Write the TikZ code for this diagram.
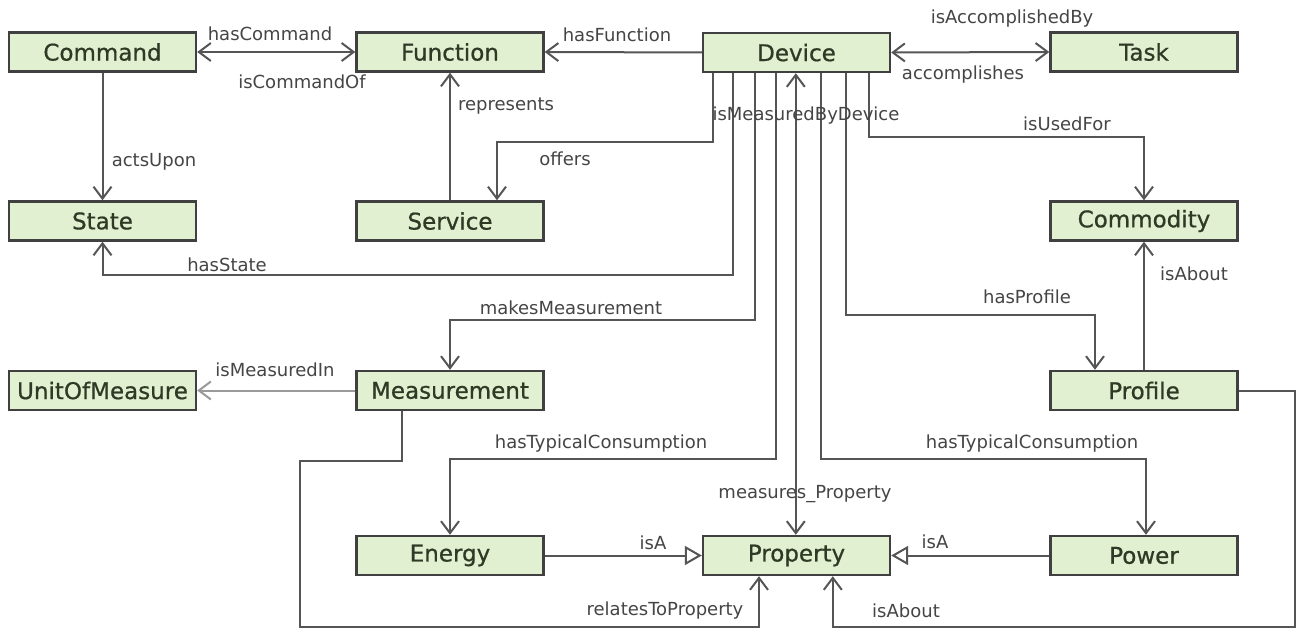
\documentclass[tikz,border=0pt]{standalone}
\usepackage{fontspec}
\setmainfont{DejaVu Sans}
\newfontfamily\clsfont[BoldFont=DejaVu Sans, BoldFeatures={FakeBold=0.7}]{DejaVu Sans}
\usetikzlibrary{arrows.meta,calc}

\definecolor{boxfill}{HTML}{E1F0D0}
\definecolor{boxline}{HTML}{404040}
\definecolor{boxtext}{HTML}{2E3A25}
\definecolor{relline}{HTML}{555555}
\definecolor{reltext}{HTML}{454545}
\definecolor{lightrel}{HTML}{9A9A9A}

\tikzset{
  cls/.style={draw=boxline, line width=2.4pt, fill=boxfill, minimum width=187pt,
    minimum height=39pt, inner sep=0pt, text=boxtext,
    font=\clsfont\bfseries\fontsize{23}{23}\selectfont},
  rel/.style={draw=relline, line width=2pt, -{Straight Barb[length=12pt,width=18pt,line width=2pt]}},
  birel/.style={rel, {Straight Barb[length=12pt,width=18pt,line width=2pt]}-{Straight Barb[length=12pt,width=18pt,line width=2pt]}},
  isa/.style={draw=relline, line width=2pt, -{Triangle[open,length=17pt,width=19pt,line width=2pt,fill=white]}},
  lbl/.style={text=reltext, inner sep=0pt, font=\fontsize{18}{18}\selectfont}
}

\begin{document}
\begin{tikzpicture}[x=1pt,y=-1pt]
  \useasboundingbox[fill=white] (0,0) rectangle (1299,631);

  % classes
  \node[cls] (command)   at (102.5,52)    {Command};
  \node[cls] (function)  at (450,52)      {Function};
  \node[cls] (device)    at (796.5,52.5)  {Device};
  \node[cls] (task)      at (1144,52)     {Task};
  \node[cls] (state)     at (102.5,221)   {State};
  \node[cls] (service)   at (450,221)     {Service};
  \node[cls] (commodity) at (1144,221)    {Commodity};
  \node[cls] (unit)      at (102.5,390.5) {UnitOfMeasure};
  \node[cls] (measurement) at (450,390.5) {Measurement};
  \node[cls] (profile)   at (1144,390.5)  {Profile};
  \node[cls] (energy)    at (450,555.5)   {Energy};
  \node[cls] (property)  at (796.5,555.5) {Property};
  \node[cls] (power)     at (1144,555.5)  {Power};

  % bend points of the routed relations
  \coordinate (bOffers)  at (497,142);
  \coordinate (bState)   at (102.5,275);
  \coordinate (bMeas)    at (450,320);
  \coordinate (bEnergy)  at (450,459);
  \coordinate (bPower)   at (1146,459);
  \coordinate (bProfile) at (1095,315);
  \coordinate (bUsed)    at (1144,137);
  \coordinate (bRelA)    at (300,461);
  \coordinate (bRelB)    at (759,627);
  \coordinate (bAbout)   at (1295,627);

  % top row
  \draw[birel] (command.east) -- (function.west);
  \draw[rel]   (device.west) -- (function.east);
  \draw[birel] (device.east) -- (task.west);
  \draw[rel]   (command.south) -- (state.north);
  \draw[rel]   (service.north) -- (function.south);

  % relations leaving Device from below
  \draw[rel] ($(device.south west)+(11,0)$)  |- (bOffers)  -- (service.north -| bOffers);
  \draw[rel] ($(device.south west)+(31,0)$)  |- (bState)   -- (state.south);
  \draw[rel] ($(device.south west)+(53,0)$)  |- (bMeas)    -- (measurement.north);
  \draw[rel] ($(device.south west)+(74,0)$)  |- (bEnergy)  -- (energy.north);
  \draw[birel] ($(device.south west)+(94,0)$) -- ($(property.north west)+(94,0)$);
  \draw[rel] ($(device.south west)+(119,0)$) |- (bPower)   -- (power.north -| bPower);
  \draw[rel] ($(device.south west)+(144,0)$) |- (bProfile) -- (profile.north -| bProfile);
  \draw[rel] ($(device.south west)+(167,0)$) |- (bUsed)    -- (commodity.north);

  % lower part
  \draw[rel] (profile.north) -- (commodity.south);
  \draw[rel, draw=lightrel] (measurement.west) -- (unit.east);
  \draw[isa] (energy.east) -- (property.west);
  \draw[isa] (power.west) -- (property.east);
  \draw[rel] ($(measurement.south west)+(47,0)$) |- (bRelA) |- (bRelB) -- (property.south -| bRelB);
  \draw[rel] (profile.east) -| (bAbout) -| ($(property.south west)+(131,0)$);

  % relation labels
  \node[lbl] (lHasCommand)  at (270,34)   {hasCommand};
  \node[lbl] (lIsCommandOf) at (302,82)   {isCommandOf};
  \node[lbl] (lHasFunction) at (617,35)   {hasFunction};
  \node[lbl] (lIsAccBy)     at (1012,19)  {isAccomplishedBy};
  \node[lbl] (lAccomp)      at (963,75)   {accomplishes};
  \node[lbl] (lActsUpon)    at (154,162)  {actsUpon};
  \node[lbl] (lRepresents)  at (506,106)  {represents};
  \node[lbl] (lIsMeasBy)    at (806,116)  {isMeasuredByDevice};
  \node[lbl] (lOffers)      at (565,159)  {offers};
  \node[lbl] (lIsUsedFor)   at (1067,124) {isUsedFor};
  \node[lbl] (lHasState)    at (227,265)  {hasState};
  \node[lbl] (lIsAboutC)    at (1194,274) {isAbout};
  \node[lbl] (lHasProfile)  at (1027,297) {hasProfile};
  \node[lbl] (lMakesMeas)   at (571,308)  {makesMeasurement};
  \node[lbl] (lIsMeasIn)    at (275,370)  {isMeasuredIn};
  \node[lbl] (lTypE)        at (601,444)  {hasTypicalConsumption};
  \node[lbl] (lTypP)        at (1032,444) {hasTypicalConsumption};
  \node[lbl] (lMeasures)    at (805,494)  {measures\_Property};
  \node[lbl] (lIsAE)        at (653,543)  {isA};
  \node[lbl] (lIsAP)        at (935,542)  {isA};
  \node[lbl] (lRelates)     at (665,611)  {relatesToProperty};
  \node[lbl] (lIsAboutP)    at (906,611)  {isAbout};
\end{tikzpicture}
\end{document}
